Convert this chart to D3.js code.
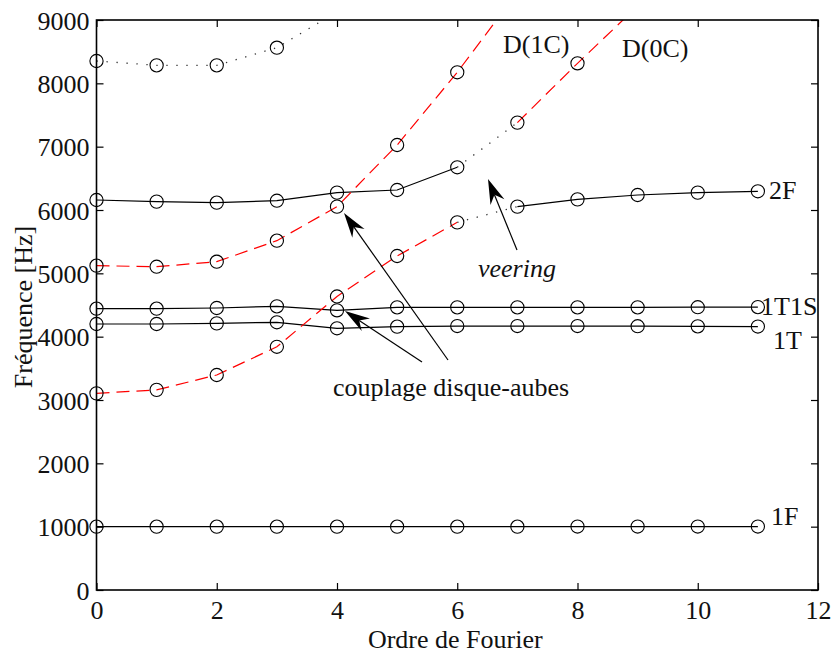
<!DOCTYPE html>
<html>
<head>
<meta charset="utf-8">
<script src="https://cdn.jsdelivr.net/npm/d3@7"></script>
<style>
  html, body { margin: 0; padding: 0; background: #fff; }
  svg { display: block; }
  text { font-family: "Liberation Serif", "Times New Roman", serif; fill: #111; }
</style>
</head>
<body>
<svg id="chart" width="835" height="655"></svg>
<script>
// ---------------- data ----------------
const xTicks = [0, 2, 4, 6, 8, 10, 12];
const yTicks = [0, 1000, 2000, 3000, 4000, 5000, 6000, 7000, 8000, 9000];
const fourierOrder = [0, 1, 2, 3, 4, 5, 6, 7, 8, 9, 10, 11];

const mode1F   = [1000, 1000, 1000, 1000, 1000, 1000, 1000, 1000, 1002, 1002, 1002, 1002];
const mode1T   = [4200, 4200, 4210, 4227, 4132, 4158, 4168, 4168, 4168, 4165, 4163, 4160];
const mode1T1S = [4442, 4442, 4453, 4479, 4416, 4463, 4463, 4463, 4463, 4463, 4465, 4467];

const mode2F_x1 = [0, 1, 2, 3, 4, 5, 6];
const mode2F_y1 = [6158, 6132, 6116, 6147, 6274, 6316, 6674];
const mode2F_x2 = [7, 8, 9, 10, 11];
const mode2F_y2 = [6053, 6168, 6237, 6274, 6295];

// disk mode D(0C): computed points and dashed curve (curve continues beyond 9000, clipped)
const d0C_x1 = [0, 1, 2, 3, 4, 5, 6];
const d0C_y1 = [3105, 3160, 3395, 3840, 4635, 5274, 5805];
const d0C_x2 = [7, 8, 9];
const d0C_y2 = [7380, 8316, 9220];

// disk mode D(1C)
const d1C_x = [0, 1, 2, 3, 4, 5, 6, 7];
const d1C_y = [5121, 5105, 5184, 5516, 6053, 7026, 8174, 9436];

// upper dotted branch
const upper_x = [0, 1, 2, 3, 4];
const upper_y = [8353, 8284, 8284, 8563, 9130];

// veering connections (dotted)
const veerA = [[6, 6674], [7, 7380]];
const veerB = [[6, 5805], [7, 6053]];

const labels = [
  { text: "D(1C)", x: 503, y: 53, italic: false, anchor: "start" },
  { text: "D(0C)", x: 622, y: 57, italic: false, anchor: "start" },
  { text: "2F",    x: 769, y: 199, italic: false, anchor: "start" },
  { text: "1T1S",  x: 761, y: 315, italic: false, anchor: "start" },
  { text: "1T",    x: 773, y: 349, italic: false, anchor: "start" },
  { text: "1F",    x: 771, y: 525, italic: false, anchor: "start" },
  { text: "veering", x: 478, y: 277, italic: true, anchor: "start" },
  { text: "couplage disque-aubes", x: 333, y: 396, italic: false, anchor: "start" }
];

// arrows [from, to] in pixel space of the annotation layer
const arrows = [
  [[448, 360], [344, 213]],
  [[422, 362], [345, 311]],
  [[517, 250], [488, 179]]
];

// ---------------- drawing ----------------
const svg = d3.select("#chart");
const L = 96.5, R = 818, T = 20, B = 590;
const x = d3.scaleLinear().domain([0, 12]).range([L, R]);
const y = d3.scaleLinear().domain([0, 9000]).range([B, T]);

svg.append("defs").append("clipPath").attr("id", "clip")
  .append("rect").attr("x", L).attr("y", T).attr("width", R - L).attr("height", B - T);

const plot = svg.append("g").attr("clip-path", "url(#clip)");
const line = d3.line().x(d => x(d[0])).y(d => y(d[1]));
const zip = (xs, ys) => xs.map((v, i) => [v, ys[i]]);

function drawLine(pts, style) {
  const p = plot.append("path").attr("d", line(pts)).attr("fill", "none");
  if (style === "solid") p.attr("stroke", "#000").attr("stroke-width", 1.2);
  if (style === "dash") p.attr("stroke", "#ff0000").attr("stroke-width", 1.2).attr("stroke-dasharray", "13,7");
  if (style === "dot") p.attr("stroke", "#333").attr("stroke-width", 1.3).attr("stroke-dasharray", "1.3,8.7");
}

drawLine(zip(fourierOrder, mode1F), "solid");
drawLine(zip(fourierOrder, mode1T), "solid");
drawLine(zip(fourierOrder, mode1T1S), "solid");
drawLine(zip(mode2F_x1, mode2F_y1), "solid");
drawLine(zip(mode2F_x2, mode2F_y2), "solid");
drawLine(zip(d0C_x1, d0C_y1), "dash");
drawLine(zip(d0C_x2, d0C_y2), "dash");
drawLine(zip(d1C_x, d1C_y), "dash");
drawLine(zip(upper_x, upper_y), "dot");
drawLine(veerA, "dot");
drawLine(veerB, "dot");

// markers
const markerPts = [].concat(
  zip(fourierOrder, mode1F), zip(fourierOrder, mode1T), zip(fourierOrder, mode1T1S),
  zip(mode2F_x1, mode2F_y1), zip(mode2F_x2, mode2F_y2),
  zip(d0C_x1, d0C_y1), zip(d0C_x2, d0C_y2), zip(d1C_x, d1C_y), zip(upper_x, upper_y)
).filter(d => d[1] <= 9000);

svg.append("g").selectAll("circle").data(markerPts).join("circle")
  .attr("cx", d => x(d[0])).attr("cy", d => y(d[1])).attr("r", 6.6)
  .attr("fill", "none").attr("stroke", "#000").attr("stroke-width", 1.1);

// axes
const fontSize = 26;
const gx = svg.append("g").attr("transform", `translate(0,${B})`)
  .call(d3.axisBottom(x).tickValues(xTicks).tickSizeInner(-7).tickSizeOuter(0).tickPadding(11).tickFormat(d3.format("d")));
const gy = svg.append("g").attr("transform", `translate(${L},0)`)
  .call(d3.axisLeft(y).tickValues(yTicks).tickSizeInner(-7).tickSizeOuter(0).tickPadding(7).tickFormat(d3.format("d")));
const gt = svg.append("g").attr("transform", `translate(0,${T})`)
  .call(d3.axisTop(x).tickValues(xTicks).tickSizeInner(-7).tickSizeOuter(0).tickFormat(""));
const gr = svg.append("g").attr("transform", `translate(${R},0)`)
  .call(d3.axisRight(y).tickValues(yTicks).tickSizeInner(-7).tickSizeOuter(0).tickFormat(""));
[gx, gy, gt, gr].forEach(g => {
  g.select(".domain").remove();
  g.selectAll(".tick line").attr("stroke", "#000").attr("stroke-width", 1.2);
  g.selectAll("text").attr("font-size", fontSize).attr("font-family", "Liberation Serif").attr("fill", "#111");
});
gx.selectAll("text").attr("dy", "0.71em");
gy.selectAll("text").attr("dy", "0.35em");

svg.append("rect").attr("x", L).attr("y", T).attr("width", R - L).attr("height", B - T)
  .attr("fill", "none").attr("stroke", "#000").attr("stroke-width", 1.6);

// axis titles
svg.append("text").attr("x", (L + R) / 2 - 2).attr("y", 648).attr("text-anchor", "middle")
  .attr("font-size", fontSize).text("Ordre de Fourier");
svg.append("text").attr("transform", `translate(32,${(T + B) / 2 + 2}) rotate(-90)`)
  .attr("text-anchor", "middle").attr("font-size", fontSize).text("Fréquence [Hz]");

// annotations
svg.append("g").selectAll("text").data(labels).join("text")
  .attr("x", d => d.x).attr("y", d => d.y).attr("text-anchor", d => d.anchor)
  .attr("font-size", fontSize).attr("font-style", d => d.italic ? "italic" : "normal")
  .text(d => d.text);

const ag = svg.append("g");
arrows.forEach(([from, to]) => {
  const dx = to[0] - from[0], dy = to[1] - from[1];
  const len = Math.hypot(dx, dy), ux = dx / len, uy = dy / len;
  const px = -uy, py = ux;
  const hl = 25, hw = 7.5, notch = 17;
  const base = [to[0] - ux * hl, to[1] - uy * hl];
  const nb = [to[0] - ux * notch, to[1] - uy * notch];
  ag.append("line").attr("x1", from[0]).attr("y1", from[1]).attr("x2", nb[0]).attr("y2", nb[1])
    .attr("stroke", "#000").attr("stroke-width", 1.2);
  const head = [to, [base[0] + px * hw, base[1] + py * hw], nb, [base[0] - px * hw, base[1] - py * hw]];
  ag.append("path").attr("d", "M" + head.map(p => p.join(",")).join("L") + "Z").attr("fill", "#000");
});
</script>
</body>
</html>
